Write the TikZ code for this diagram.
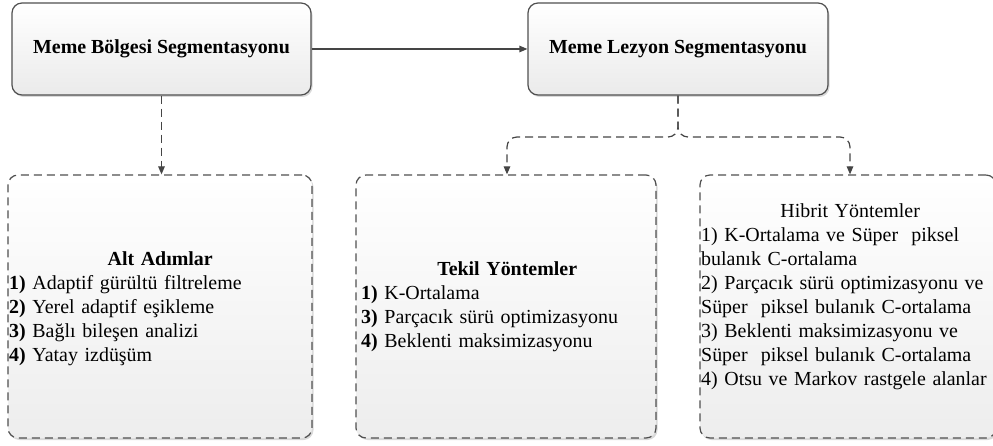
\documentclass[tikz,border=0pt]{standalone}
\usepackage{fontspec}
\setmainfont{Liberation Serif}
\usetikzlibrary{arrows.meta,shadows}
\definecolor{edge}{HTML}{505050}
\definecolor{wire}{HTML}{454545}
\tikzset{
  softshadow/.style={drop shadow={shadow xshift=1.5bp, shadow yshift=-2bp, opacity=0.15, fill=black}},
  topbox/.style={draw=edge, line width=1.2bp, rounded corners=10bp,
    top color=white, bottom color=black!8, softshadow,
    minimum height=92bp, inner sep=0,
    font=\bfseries\fontsize{20}{24}\selectfont},
  groupbox/.style={draw=edge, line width=1.2bp, dash pattern=on 8bp off 5bp,
    rounded corners=10bp, top color=white, bottom color=black!7, softshadow,
    minimum height=263bp, inner sep=0},
  listtext/.style={anchor=base west, inner sep=0, align=left,
    font=\fontsize{20}{24}\selectfont},
  link/.style={draw=wire, line width=1.2bp, -{Triangle[length=8bp,width=6.5bp]}},
  dashlink/.style={link, dash pattern=on 8bp off 5bp, rounded corners=10bp},
}
\begin{document}
\begin{tikzpicture}[x=1bp,y=-1bp]
\useasboundingbox (0,0) rectangle (993,446);

% upper stage boxes
\node[topbox, minimum width=299bp] (breast) at (161.5,49) {Meme Bölgesi Segmentasyonu};
\node[topbox, minimum width=300bp] (lesion) at (678,49) {Meme Lezyon Segmentasyonu};

% lower group boxes
\node[groupbox, minimum width=304bp] (steps) at (160,306.5) {};
\node[groupbox, minimum width=300bp] (single) at (506,306.5) {};
\node[groupbox, minimum width=296bp] (hybrid) at (848,306.5) {};

% contents of the group boxes
\node[listtext, text width=302bp] (stepstext) at (9,266) {%
\makebox[\linewidth]{\textbf{Alt Adımlar}}\\
\textbf{1)} Adaptif gürültü filtreleme\\
\textbf{2)} Yerel adaptif eşikleme\\
\textbf{3)} Bağlı bileşen analizi\\
\textbf{4)} Yatay izdüşüm};

\node[listtext, text width=292bp] (singletext) at (361,276) {%
\makebox[\linewidth]{\textbf{Tekil Yöntemler}}\\
\textbf{1)} K-Ortalama\\
\textbf{3)} Parçacık sürü optimizasyonu\\
\textbf{4)} Beklenti maksimizasyonu};

\node[listtext, text width=298bp] (hybridtext) at (701,218) {%
\makebox[\linewidth]{Hibrit Yöntemler}\\
1) K-Ortalama ve Süper~ piksel\\
bulanık C-ortalama\\
2) Parçacık sürü optimizasyonu ve\\
Süper~ piksel bulanık C-ortalama\\
3) Beklenti maksimizasyonu ve\\
Süper~ piksel bulanık C-ortalama\\
4) Otsu ve Markov rastgele alanlar};

% connectors
\draw[link] (breast.east) -- (lesion.west);
\draw[dashlink] (breast.south) -- (breast.south |- steps.north);

\coordinate (fork) at (678,137);
\coordinate (leftdrop) at (507,150);
\coordinate (rightdrop) at (850,150);
\draw[dashlink] (lesion.south) -- (fork) -- (fork -| leftdrop) -- (leftdrop |- single.north);
\draw[dashlink] (lesion.south) -- (fork) -- (fork -| rightdrop) -- (rightdrop |- hybrid.north);
\end{tikzpicture}
\end{document}
